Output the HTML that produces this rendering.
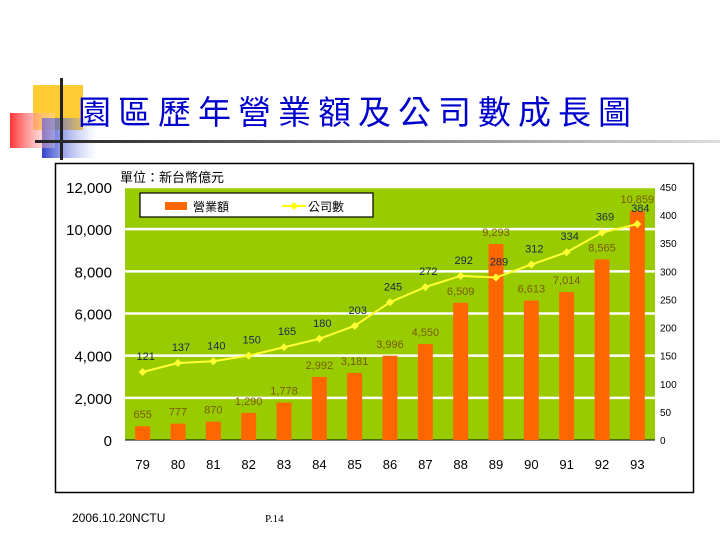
<!DOCTYPE html>
<html><head><meta charset="utf-8"><style>
body{margin:0;width:720px;height:540px;background:#fff;overflow:hidden;position:relative;font-family:"Liberation Sans","Noto Sans CJK TC",sans-serif}
</style></head><body>
<svg width="720" height="540" style="position:absolute;left:0;top:0">
<defs>
<linearGradient id="lg" x1="0" x2="1"><stop offset="0" stop-color="#222"/><stop offset="1" stop-color="#ddd"/></linearGradient>
<linearGradient id="rg" x1="0" x2="1"><stop offset="0" stop-color="#f33"/><stop offset="1" stop-color="#fdd" stop-opacity="0.3"/></linearGradient>
<linearGradient id="bg" x1="0" x2="1"><stop offset="0" stop-color="#3344cc"/><stop offset="1" stop-color="#99aaee" stop-opacity="0"/></linearGradient>
</defs>
<g>
<rect x="33" y="85" width="50" height="45" fill="#ffcc33"/>
<rect x="42" y="118" width="55" height="40" fill="url(#bg)"/>
<rect x="10" y="113" width="45" height="35" fill="url(#rg)"/>
<rect x="60" y="78" width="3" height="82" fill="#222"/>
<rect x="35" y="140" width="685" height="3" fill="url(#lg)"/>
</g>
<text x="78" y="124" font-size="33" fill="#0000cc" letter-spacing="7" font-family="Liberation Sans,Noto Sans CJK TC,sans-serif">園區歷年營業額及公司數成長圖</text>
<rect x="55.5" y="163.5" width="638" height="329" fill="#fff" stroke="#000" stroke-width="1.5"/>
<rect x="125" y="187" width="530" height="253" fill="#99cc00"/>
<text x="120" y="182" font-size="13" fill="#000">單位：新台幣億元</text>
<g id="chart"></g>
<g>
<rect x="140" y="193" width="233" height="24" fill="#fff" stroke="#000" stroke-width="1.2"/>
<rect x="165" y="202" width="22" height="8" fill="#ff6600"/>
<text x="193" y="211" font-size="12">營業額</text>
<line x1="282" y1="206" x2="306" y2="206" stroke="#ffff00" stroke-width="2"/>
<path d="M294 202 L298 206 L294 210 L290 206Z" fill="#ffff00"/>
<text x="308" y="211" font-size="12">公司數</text>
</g>
<text x="72" y="522" font-size="12" fill="#000">2006.10.20NCTU</text>
<text x="265" y="522" font-size="11" fill="#000" font-family="Liberation Serif,serif">P.14</text>
</svg>
<script>
const categories=["79","80","81","82","83","84","85","86","87","88","89","90","91","92","93"];
const revenue=[655,777,870,1290,1778,2992,3181,3996,4550,6509,9293,6613,7014,8565,10859];
const companies=[121,137,140,150,165,180,203,245,272,292,289,312,334,369,384];
const leftTicks=[0,2000,4000,6000,8000,10000,12000];
const rightTicks=[0,50,100,150,200,250,300,350,400,450];
const NS="http://www.w3.org/2000/svg";
const g=document.getElementById('chart');
const X0=125,X1=655,Y0=440,Y1=187;
const xC=i=>X0+(i+0.5)*(X1-X0)/categories.length;
const yL=v=>Y0-(v/12000)*(Y0-Y1);
const yR=v=>Y0-(v/450)*(Y0-Y1);
function mk(t,a){const e=document.createElementNS(NS,t);for(const k in a)e.setAttribute(k,a[k]);g.appendChild(e);return e;}
const fmt=v=>v.toLocaleString('en-US');
leftTicks.forEach(v=>{
 if(v>0){const l=mk('line',{x1:X0,x2:X1,y1:yL(v),y2:yL(v),stroke:'#fff','stroke-width':2.5});
 
 }
 const t=mk('text',{x:112,y:yL(v)+6,'font-size':15,'text-anchor':'end',fill:'#000'});t.textContent=fmt(v);
 
 
});
rightTicks.forEach(v=>{
 const t=mk('text',{x:660,y:yR(v)+4,'font-size':10,fill:'#000'});t.textContent=v;
 
 
});
mk('line',{x1:X0,x2:X1,y1:Y0,y2:Y0,stroke:'#000','stroke-width':1});
categories.forEach((c,i)=>{
 const b=mk('rect',{x:xC(i)-7.5,y:yL(revenue[i]),width:15,height:Y0-yL(revenue[i]),fill:'#ff6600'});
 
 
 const t=mk('text',{x:xC(i),y:yL(revenue[i])-8,'font-size':11,'text-anchor':'middle',fill:'#7a5a00'});t.textContent=fmt(revenue[i]);
 
 
 const cl=mk('text',{x:xC(i),y:469,'font-size':13,'text-anchor':'middle',fill:'#000'});cl.textContent=c;
 
 
});
const pl=mk('polyline',{points:companies.map((v,i)=>xC(i)+','+yR(v)).join(' '),fill:'none',stroke:'#ffff33','stroke-width':2});


companies.forEach((v,i)=>{
 const x=xC(i),y=yR(v);
 const p=mk('path',{d:`M${x} ${y-4}L${x+4} ${y}L${x} ${y+4}L${x-4} ${y}Z`,fill:'#ffff33'});
 
 
 const t=mk('text',{x:x+3,y:y-12,'font-size':11,'text-anchor':'middle',fill:'#1a2a44'});t.textContent=v;
 
 
});
</script>
</body></html>
